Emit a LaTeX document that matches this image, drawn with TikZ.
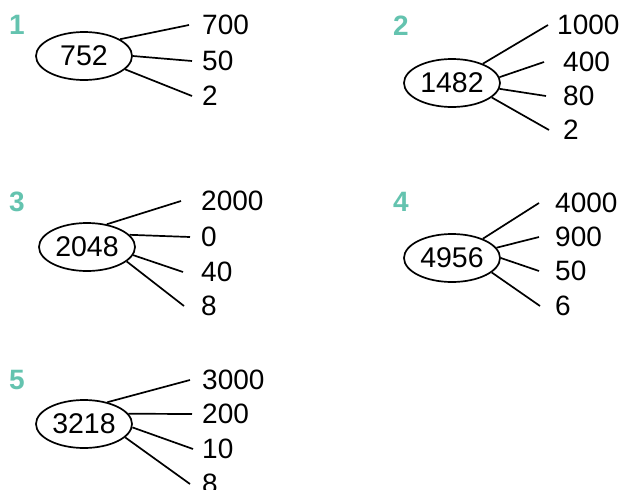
\documentclass[tikz,border=0pt]{standalone}
\usepackage{fontspec}
\setmainfont{Liberation Sans}
\usetikzlibrary{shapes.geometric}
\definecolor{numgreen}{RGB}{100,195,175}

\begin{document}
\begin{tikzpicture}[x=1pt, y=-1pt,
    whole/.style={draw, ellipse, line width=1.7pt, minimum width=96pt, minimum height=48pt, inner sep=0pt, font=\fontsize{28.5}{30}\selectfont},
    part/.style={anchor=west, inner sep=0pt, font=\fontsize{28}{30}\selectfont},
    tag/.style={inner sep=0pt, text=numgreen, font=\fontsize{28}{30}\selectfont\bfseries},
    br/.style={line width=1.7pt}
]
\useasboundingbox (0,0) rectangle (622,490);

% 1
\node[tag] (l1) at (17,25) {1};
\node[whole] (e1) at (84,56) {752};
\node[part] (g1a) at (202,25) {700};
\node[part] (g1b) at (202,61) {50};
\node[part] (g1c) at (202,96) {2};
\draw[br] (e1.25) -- ([xshift=-13pt]g1a.west);
\draw[br] (e1.0) -- ([xshift=-10pt]g1b.west);
\draw[br] (e1.-18) -- ([xshift=-10pt]g1c.west);

% 2
\node[tag] (l2) at (401,26) {2};
\node[whole] (e2) at (452,83) {1482};
\node[part] (g2a) at (557,25) {1000};
\node[part] (g2b) at (563,62) {400};
\node[part] (g2c) at (563,96) {80};
\node[part] (g2d) at (563,130) {2};
\draw[br] (e2.32) -- ([xshift=-9pt]g2a.west);
\draw[br] (e2.7) -- ([xshift=-19pt]g2b.west);
\draw[br] (e2.-7) -- ([xshift=-17pt]g2c.west);
\draw[br] (e2.-20) -- ([xshift=-14pt]g2d.west);

% 3
\node[tag] (l3) at (17,202) {3};
\node[whole] (e3) at (87,247) {2048};
\node[part] (g3a) at (201,201) {2000};
\node[part] (g3b) at (201,237) {0};
\node[part] (g3c) at (201,272) {40};
\node[part] (g3d) at (201,306) {8};
\draw[br] (e3.49) -- ([xshift=-20pt]g3a.west);
\draw[br] (e3.16) -- ([xshift=-11pt]g3b.west);
\draw[br] (e3.-10) -- ([xshift=-18pt]g3c.west);
\draw[br] (e3.-20) -- ([xshift=-17pt]g3d.west);

% 4
\node[tag] (l4) at (401,202) {4};
\node[whole] (e4) at (452,258) {4956};
\node[part] (g4a) at (555,203) {4000};
\node[part] (g4b) at (555,237) {900};
\node[part] (g4c) at (555,271) {50};
\node[part] (g4d) at (555,306) {6};
\draw[br] (e4.32) -- ([xshift=-16pt]g4a.west);
\draw[br] (e4.13) -- ([xshift=-16pt]g4b.west);
\draw[br] (e4.0) -- ([xshift=-16pt]g4c.west);
\draw[br] (e4.-20) -- ([xshift=-15pt]g4d.west);

% 5
\node[tag] (l5) at (17,380) {5};
\node[whole] (e5) at (84,424) {3218};
\node[part] (g5a) at (202,380) {3000};
\node[part] (g5b) at (202,414) {200};
\node[part] (g5c) at (202,449) {10};
\node[part] (g5d) at (202,484) {8};
\draw[br] (e5.43) -- ([xshift=-12pt]g5a.west);
\draw[br] (e5.13) -- ([xshift=-10pt]g5b.west);
\draw[br] (e5.-4) -- ([xshift=-9pt]g5c.west);
\draw[br] (e5.-18) -- ([xshift=-12pt]g5d.west);
\end{tikzpicture}
\end{document}
